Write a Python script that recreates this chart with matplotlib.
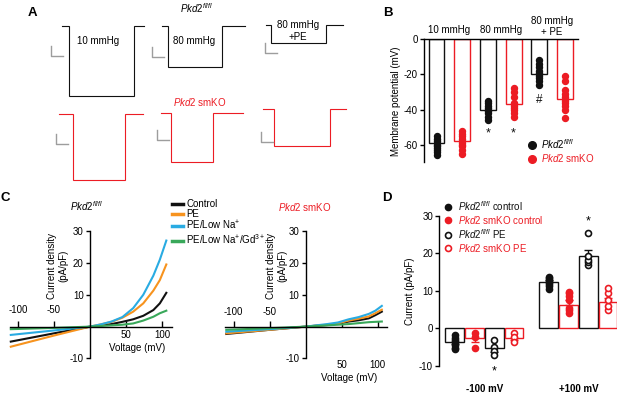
import numpy as np
import matplotlib
matplotlib.use('Agg')
import matplotlib.pyplot as plt
from matplotlib.lines import Line2D

plt.rcParams['font.family'] = ['Liberation Sans', 'DejaVu Sans']
plt.rcParams['mathtext.fontset'] = 'custom'
plt.rcParams['mathtext.rm'] = 'Liberation Sans'
plt.rcParams['mathtext.it'] = 'Liberation Sans:italic'
plt.rcParams['mathtext.bf'] = 'Liberation Sans:bold'
plt.rcParams['axes.unicode_minus'] = False
plt.rcParams['font.size'] = 7

# ------------------------------------------------------------------ data
# Panel A: example membrane-potential traces (time in s, potential in mV)
trace_pre_flfl = [0.58, 0.50, 0.42]
trace_dur_flfl = [5.42, 4.50, 4.58]
trace_post_flfl = [0.83, 1.92, 1.42]
trace_level_flfl = [-70, -41, -18]
trace_pre_ko = [1.17, 0.83, 0.92]
trace_dur_ko = [4.33, 3.50, 4.67]
trace_post_ko = [1.50, 2.50, 1.33]
trace_level_ko = [-66, -49, -37]
trace_labels = ['10 mmHg', '80 mmHg', '80 mmHg\n+PE']

# Panel B: membrane potential (mV)
b_groups = ['10 mmHg', '80 mmHg', '80 mmHg\n+ PE']
b_mean_flfl = [-59, -40, -20]
b_mean_ko = [-58, -37, -34]
b_pts_flfl = [[-55, -57, -58, -59, -60, -61, -62, -63, -64, -66],
              [-35, -36, -38, -39, -40, -41, -42, -44, -46],
              [-12, -14, -16, -18, -19, -20, -21, -22, -24, -26]]
b_pts_ko = [[-52, -54, -55, -57, -58, -59, -60, -61, -63, -65],
            [-28, -30, -33, -36, -37, -38, -39, -40, -42, -44],
            [-21, -24, -29, -31, -33, -34, -35, -36, -38, -40, -45]]
b_marks = ['', '', '*', '*', '#', '']

# Panel C: I-V relationships (mV, pA/pF)
c_voltage = [-110, -50, 0, 15, 30, 45, 60, 74, 88, 97, 106]
c_flfl_control = [-4.7, -2.1, 0, 0.4, 0.8, 1.5, 2.3, 3.4, 5.2, 7.3, 10.6]
c_flfl_pe = [-6.3, -2.8, 0, 0.7, 1.5, 2.8, 4.7, 7.3, 11.3, 14.6, 19.5]
c_flfl_lowna = [-2.6, -1.2, 0, 0.7, 1.6, 3.0, 5.8, 10.0, 16.0, 21.0, 27.0]
c_flfl_gd = [-0.8, -0.4, 0, 0.2, 0.4, 0.6, 1.0, 1.9, 3.1, 4.2, 5.0]
c_ko_control = [-2.3, -1.0, 0, 0.3, 0.5, 0.9, 1.6, 2.0, 2.6, 3.6, 4.7]
c_ko_pe = [-2.1, -1.0, 0, 0.3, 0.6, 1.0, 1.9, 2.5, 3.2, 4.2, 5.3]
c_ko_lowna = [-1.6, -0.8, 0, 0.4, 0.8, 1.3, 2.3, 3.0, 4.0, 5.0, 6.5]
c_ko_gd = [-1.0, -0.5, 0, 0.2, 0.4, 0.6, 0.8, 1.1, 1.4, 1.5, 1.6]
c_series = ['Control', 'PE', 'PE/Low Na$^{+}$', 'PE/Low Na$^{+}$/Gd$^{3+}$']
c_xticks = [-100, -50, 50, 100]
c_yticks = [-10, 10, 20, 30]

# Panel D: current at -100 / +100 mV (pA/pF)
d_groups = ['-100 mV', '+100 mV']
d_mean_flfl_ctrl = [-3.8, 12.4]
d_mean_ko_ctrl = [-2.7, 6.3]
d_mean_flfl_pe = [-5.4, 19.4]
d_mean_ko_pe = [-2.7, 7.0]
d_sem_flfl_ctrl = [0.5, 0.4]
d_sem_ko_ctrl = [0.9, 1.3]
d_sem_flfl_pe = [0.9, 1.5]
d_sem_ko_pe = [0.5, 1.1]
d_pts_flfl_ctrl = [[-1.8, -2.5, -3.2, -3.8, -4.5, -5.2, -5.6],
                   [10.5, 11.2, 11.8, 12.3, 12.8, 13.3, 13.8]]
d_pts_ko_ctrl = [[-1.3, -2.2, -5.3],
                 [4.0, 4.8, 5.5, 7.5, 8.5, 9.3, 9.8]]
d_pts_flfl_pe = [[-3.1, -4.9, -6.2, -7.1],
                 [17.0, 17.6, 18.3, 19.2, 25.4]]
d_pts_ko_pe = [[-1.2, -2.4, -3.8],
               [4.9, 6.0, 7.6, 9.5, 10.7]]
d_yticks = [-10, 0, 10, 20, 30]

# ------------------------------------------------------------------ style
W, H = 617, 395
fig = plt.figure(figsize=(W / 100, H / 100), dpi=100)
BLACK = '#111111'
RED = '#ec1c24'
ORANGE = '#f7931e'
BLUE = '#29abe2'
GREEN = '#39a85a'
GREY = '#9d9d9d'
C_COLORS = [BLACK, ORANGE, BLUE, GREEN]

FLFL = r'$\mathit{Pkd2}^{\mathit{fl/fl}}$'
KO = r'$\mathit{Pkd2}$ smKO'


def px_axes(x0, y0, x1, y1, xo, yo, sx, sy):
    """axes occupying pixel box (x0,y0)-(x1,y1); data origin at pixel (xo,yo)."""
    ax = fig.add_axes([x0 / W, 1 - y1 / H, (x1 - x0) / W, (y1 - y0) / H])
    ax.set_xlim((x0 - xo) / sx, (x1 - xo) / sx)
    ax.set_ylim(-(y1 - yo) / sy, -(y0 - yo) / sy)
    ax.patch.set_alpha(0)
    return ax


def ftext(x, y, s, **kw):
    kw.setdefault('ha', 'center')
    kw.setdefault('va', 'center')
    return fig.text(x / W, 1 - y / H, s, **kw)


# ------------------------------------------------------------------ panel A
ftext(32, 13, 'A', fontsize=9.5, fontweight='bold')
ftext(197, 1, FLFL, fontsize=7, va='top')
ftext(200, 102, KO, fontsize=7, color=RED)

trace_start_px = [(62, 25.7), (162, 25.7), (265.5, 24.7)]
trace_start_px_ko = [(59, 114), (161, 112.7), (263, 109)]
sbar_flfl = [(-0.92, -30.3), (-0.83, -31.3), (-0.05, -28.3)]
sbar_ko = [(-0.25, -30.0), (-0.33, -27.3), (-0.17, -33.0)]
SX, SY = 12.0, 1.0


def draw_trace(start, pre, dur, post, level, color, sbar):
    xs, ys = start
    ax = px_axes(xs - 16, ys - 6, xs + (pre + dur + post) * SX + 2, ys + 80, xs, ys, SX, SY)
    t = [0, pre, pre, pre + dur, pre + dur, pre + dur + post]
    v = [0, 0, level, level, 0, 0]
    ax.plot(t, v, color=color, lw=0.8, solid_joinstyle='miter')
    bx, by = sbar
    ax.plot([bx, bx, bx + 1.0], [by + 10, by, by], color=GREY, lw=1.0)
    ax.axis('off')
    return ax


for i in range(3):
    draw_trace(trace_start_px[i], trace_pre_flfl[i], trace_dur_flfl[i],
               trace_post_flfl[i], trace_level_flfl[i], BLACK, sbar_flfl[i])
    draw_trace(trace_start_px_ko[i], trace_pre_ko[i], trace_dur_ko[i],
               trace_post_ko[i], trace_level_ko[i], RED, sbar_ko[i])

ftext(98, 41, trace_labels[0], fontsize=7)
ftext(194.5, 41, trace_labels[1], fontsize=7)
ftext(298, 31, trace_labels[2], fontsize=7, linespacing=1.2)

# ------------------------------------------------------------------ panel B
ftext(388, 13, 'B', fontsize=9.5, fontweight='bold')
axB = px_axes(424, 39.3, 578, 162.3, 436.5, 39.3, 25.7, 1.757)
xb_flfl = [0, 2, 4]
xb_ko = [1, 3, 5]
axB.bar(xb_flfl, b_mean_flfl, width=0.62, facecolor='white', edgecolor=BLACK, lw=1.0, zorder=1)
axB.bar(xb_ko, b_mean_ko, width=0.62, facecolor='white', edgecolor=RED, lw=1.0, zorder=1)
for i in range(3):
    axB.plot([xb_flfl[i]] * len(b_pts_flfl[i]), b_pts_flfl[i], 'o', color=BLACK, ms=4.3, zorder=3, clip_on=False)
    axB.plot([xb_ko[i]] * len(b_pts_ko[i]), b_pts_ko[i], 'o', color=RED, ms=4.3, zorder=3, clip_on=False)
allx = [0, 1, 2, 3, 4, 5]
allpts = [b_pts_flfl[0], b_pts_ko[0], b_pts_flfl[1], b_pts_ko[1], b_pts_flfl[2], b_pts_ko[2]]
for x, m, p in zip(allx, b_marks, allpts):
    if m == '*':
        axB.text(x, -50.0, m, ha='center', va='top', fontsize=9, color=BLACK)
    elif m == '#':
        axB.text(x, min(p) - 5.0, m, ha='center', va='top', fontsize=8.5, color=BLACK)
for j, g in enumerate(b_groups):
    yy = 7.5 if '\n' in g else 5.3
    axB.text(2 * j + 0.5, yy, g, ha='center', va='center', fontsize=7, linespacing=1.15, clip_on=False)
axB.set_yticks([0, -20, -40, -60])
axB.set_xticks([])
for s in ['right', 'bottom']:
    axB.spines[s].set_visible(False)
for s in ['left', 'top']:
    axB.spines[s].set_linewidth(1.0)
axB.tick_params(axis='y', length=3, width=1.0, labelsize=7, pad=1.5)
axB.set_ylabel('Membrane potential (mV)', fontsize=7, labelpad=2)

legB = fig.legend(handles=[Line2D([], [], ls='', marker='o', color=BLACK, ms=5.5),
                           Line2D([], [], ls='', marker='o', color=RED, ms=5.5)],
                  labels=[FLFL, KO], loc='upper left', bbox_to_anchor=(528 / W, 1 - 137 / H),
                  frameon=False, fontsize=7, handlelength=0.9, handletextpad=0.4,
                  labelspacing=0.15, borderpad=0, borderaxespad=0)
legB.get_texts()[1].set_color(RED)

# ------------------------------------------------------------------ panel C
ftext(5, 198, 'C', fontsize=9.5, fontweight='bold')
ftext(87, 206, FLFL, fontsize=7)
ftext(304.5, 207, KO, fontsize=7, color=RED)


def iv_axes(x0, x1, xo, curves, neg_label_y, pos_label_y, xlabel_xy, ylabel_x):
    ax = px_axes(x0, 230.7, x1, 358.5, xo, 326.7, 0.72, 3.19)
    for vals, col in zip(curves, C_COLORS):
        ax.plot(c_voltage, vals, color=col, lw=1.5, clip_on=False)
    ax.spines['left'].set_position(('data', 0))
    ax.spines['bottom'].set_position(('data', 0))
    for s in ['right', 'top']:
        ax.spines[s].set_visible(False)
    for s in ['left', 'bottom']:
        ax.spines[s].set_linewidth(1.0)
    ax.set_yticks(c_yticks)
    ax.set_yticklabels([str(v) for v in c_yticks])
    ax.tick_params(axis='y', length=3, width=1.0, labelsize=7, pad=1.5)
    ax.set_xticks(c_xticks)
    ax.set_xticklabels([])
    ax.tick_params(axis='x', direction='in', length=4, width=1.0)
    for v in c_xticks:
        yl = neg_label_y if v < 0 else pos_label_y
        ax.text(v, yl, str(v), ha='center', va='center', fontsize=7)
    ax.text(xlabel_xy[0], xlabel_xy[1], 'Voltage (mV)', ha='center', va='center', fontsize=7)
    ax.text(ylabel_x, 19, 'Current density\n(pA/pF)', rotation=90, ha='center', va='center',
            fontsize=7, linespacing=1.2)
    return ax


iv_axes(10, 172, 90, [c_flfl_control, c_flfl_pe, c_flfl_lowna, c_flfl_gd],
        5.2, -2.6, (65, -6.8), -45)
iv_axes(225, 387, 305.5, [c_ko_control, c_ko_pe, c_ko_lowna, c_ko_gd],
        4.7, -12, (60, -16), -40)

legC = fig.legend(handles=[Line2D([], [], color=c, lw=2.5) for c in C_COLORS],
                  labels=c_series, loc='upper left', bbox_to_anchor=(172 / W, 1 - 199 / H),
                  frameon=False, fontsize=7, handlelength=1.1, handletextpad=0.35,
                  labelspacing=0.0, borderpad=0, borderaxespad=0)

# ------------------------------------------------------------------ panel D
ftext(387, 198, 'D', fontsize=9.5, fontweight='bold')
axD = px_axes(439.3, 216, 617, 365.7, 484.4, 328.3, 94.0, 3.74)
off = [-0.315, -0.105, 0.105, 0.315]
grp = np.array([0, 1])
means = [d_mean_flfl_ctrl, d_mean_ko_ctrl, d_mean_flfl_pe, d_mean_ko_pe]
sems = [d_sem_flfl_ctrl, d_sem_ko_ctrl, d_sem_flfl_pe, d_sem_ko_pe]
pts = [d_pts_flfl_ctrl, d_pts_ko_ctrl, d_pts_flfl_pe, d_pts_ko_pe]
cols = [BLACK, RED, BLACK, RED]
filled = [True, True, False, False]
for k in range(4):
    xs = grp + off[k]
    axD.bar(xs, means[k], width=0.2, facecolor='white', edgecolor=cols[k], lw=1.0, zorder=1)
    lo = [s if m < 0 else 0 for m, s in zip(means[k], sems[k])]
    hi = [s if m > 0 else 0 for m, s in zip(means[k], sems[k])]
    axD.errorbar(xs, means[k], yerr=[lo, hi], fmt='none', ecolor=cols[k], elinewidth=1.0,
                 capsize=3, capthick=1.0, zorder=2)
    for g in range(2):
        p = pts[k][g]
        axD.plot([xs[g]] * len(p), p, 'o', ms=4.3, mec=cols[k], mew=1.2,
                 mfc=cols[k] if filled[k] else 'white', zorder=3, clip_on=False)
axD.text(1 + off[2], 27.0, '*', ha='center', va='bottom', fontsize=9)
axD.text(0 + off[2], -9.8, '*', ha='center', va='top', fontsize=9, clip_on=False)
for g, lab in enumerate(d_groups):
    axD.text(g, -14.9, lab, ha='center', va='top', fontsize=7, fontweight='bold', clip_on=False)
axD.set_yticks(d_yticks)
axD.set_ylim(-10, 30)
axD.set_xticks([])
for s in ['right', 'top', 'bottom']:
    axD.spines[s].set_visible(False)
axD.spines['left'].set_linewidth(1.0)
axD.tick_params(axis='y', length=3, width=1.0, labelsize=7, pad=1.5)
axD.set_ylabel('Current (pA/pF)', fontsize=7, labelpad=3)

legD = fig.legend(handles=[Line2D([], [], ls='', marker='o', ms=4.3, mec=c, mew=1.2,
                                  mfc=c if f else 'white') for c, f in zip(cols, filled)],
                  labels=[FLFL + ' control', KO + ' control', FLFL + ' PE', KO + ' PE'],
                  loc='upper left', bbox_to_anchor=(444 / W, 1 - 199 / H),
                  frameon=False, fontsize=7, handlelength=0.9, handletextpad=0.5,
                  labelspacing=0.1, borderpad=0, borderaxespad=0)
for t, c in zip(legD.get_texts(), cols):
    t.set_color(c)

fig.savefig('out.png', dpi=100)
